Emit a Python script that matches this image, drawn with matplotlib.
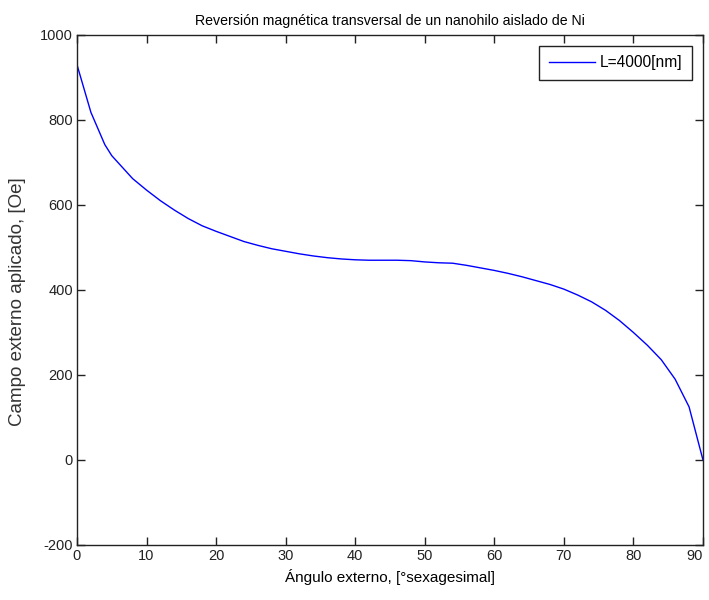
import numpy as np
import matplotlib
matplotlib.use("Agg")
import matplotlib.pyplot as plt

# ---------------------------------------------------------
# DATA
# ---------------------------------------------------------
angle_deg = [0, 2, 4, 5, 6, 8, 10, 12, 14, 16, 18, 20, 22, 24, 26, 28, 30,
             32, 34, 36, 38, 40, 42, 44, 46, 48, 50, 52, 54, 56, 58, 60,
             62, 64, 66, 68, 70, 72, 74, 76, 78, 80, 82, 84, 86, 88, 90]
field_oe = [930, 818, 742, 716, 698, 662, 635, 610, 588, 568, 551, 538, 526,
            514, 505, 497, 491, 485, 480, 476, 473, 471, 470, 470, 470,
            469, 466, 464, 463, 458, 452, 446, 439, 431, 422, 413, 402,
            388, 372, 352, 328, 300, 270, 236, 190, 125, 0]

series_label = "L=4000[nm]"
title = "Reversión magnética transversal de un nanohilo aislado de Ni"
xlabel = "Ángulo externo, [°sexagesimal]"
ylabel = "Campo externo aplicado, [Oe]"

# ---------------------------------------------------------
# PLOT
# ---------------------------------------------------------
plt.rcParams['font.family'] = ['Liberation Sans', 'DejaVu Sans']
plt.rcParams['axes.unicode_minus'] = False

fig = plt.figure(figsize=(7.09, 6.0), dpi=100)
ax = fig.add_axes([0.1086, 0.0917, 0.8829, 0.85])

ax.plot(angle_deg, field_oe, color="#0000ff", lw=1.0, label=series_label)

ax.set_xlim(0, 90)
ax.set_ylim(-200, 1000)
ax.set_xticks(np.arange(0, 91, 10))
ax.set_yticks(np.arange(-200, 1001, 200))

ax.tick_params(direction="in", length=6, width=1, top=True, right=True,
               colors="#222222", labelsize=10.5, pad=3)
for s in ax.spines.values():
    s.set_color("#222222")
    s.set_linewidth(1.0)
# keep the last x tick label inside the canvas
fig.canvas.draw()
ax.get_xticklabels()[-1].set_horizontalalignment("right")

ax.set_title(title, fontsize=10.2, pad=7)
ax.set_xlabel(xlabel, fontsize=11, labelpad=4)
ax.set_ylabel(ylabel, fontsize=13.5, color="#333333")
ax.yaxis.set_label_coords(-0.082, 0.478)

leg = ax.legend(loc="upper right", fancybox=False, framealpha=1,
                edgecolor="#222222", fontsize=11.2, handlelength=3.0,
                handletextpad=0.3, borderpad=0.6, borderaxespad=0.7)
leg.get_frame().set_linewidth(1.0)

fig.savefig("out.png", dpi=100)
